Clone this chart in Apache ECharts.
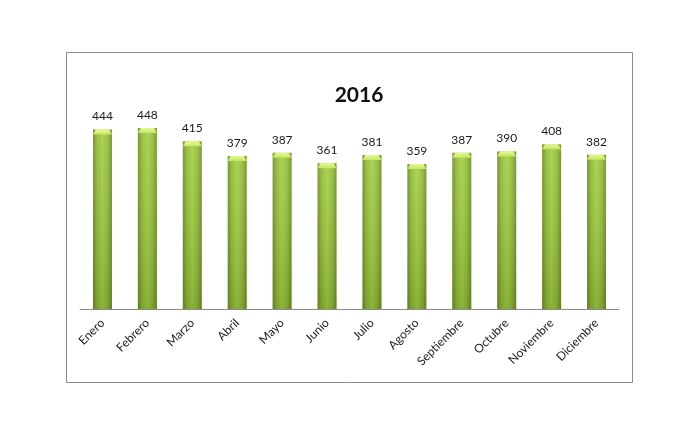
<!DOCTYPE html>
<html>
<head>
<meta charset="utf-8">
<script src="https://cdn.jsdelivr.net/npm/echarts@6/dist/echarts.min.js"></script>
<style>html,body{margin:0;padding:0;background:#fff;}#c{width:698px;height:423px;}</style>
</head>
<body>
<div id="c"></div>
<script>
const titleText = '2016';
const categories = ['Enero','Febrero','Marzo','Abril','Mayo','Junio','Julio','Agosto','Septiembre','Octubre','Noviembre','Diciembre'];
const values = [444,448,415,379,387,361,381,359,387,390,408,382];

const chart = echarts.init(document.getElementById('c'));
const FONT = 'Lato, "Open Sans", sans-serif';
const BW = 19;

function renderItem(params, api) {
  const top = api.coord([api.value(0), api.value(1)]);
  const base = api.coord([api.value(0), 0]);
  const cx = top[0], ty = top[1], by = base[1];
  const x0 = cx - BW / 2;
  return {
    type: 'group',
    children: [
      { type: 'rect', shape: { x: x0, y: ty, width: BW, height: by - ty },
        style: { fill: new echarts.graphic.LinearGradient(0, 0, 1, 0, [
          { offset: 0, color: '#6a8c26' },
          { offset: 0.22, color: '#8fba38' },
          { offset: 0.5, color: '#a2cf46' },
          { offset: 0.78, color: '#8fba38' },
          { offset: 1, color: '#6a8c26' }
        ]) } },
      { type: 'rect', shape: { x: x0, y: ty, width: BW, height: by - ty },
        style: { fill: new echarts.graphic.LinearGradient(0, 0, 0, 1, [
          { offset: 0, color: 'rgba(255,255,210,0.10)' },
          { offset: 1, color: 'rgba(40,50,0,0.18)' }
        ]) } },
      { type: 'polygon', shape: { points: [[x0, ty + 5], [x0 + 3, ty], [x0 + BW - 3, ty], [x0 + BW, ty + 5]] },
        style: { fill: new echarts.graphic.LinearGradient(0, 0, 0, 1, [
          { offset: 0, color: '#e6fa9a' },
          { offset: 1, color: '#c2e65c' }
        ]) } },
      { type: 'text', style: { text: String(api.value(1)), x: cx, y: ty - 7,
        align: 'center', verticalAlign: 'bottom', fill: '#1a1a1a', font: '12px ' + FONT } }
    ]
  };
}

chart.setOption({
  backgroundColor: '#fff',
  animation: false,
  title: { text: titleText, left: 354, top: 80, textAlign: 'center',
    textStyle: { fontFamily: FONT, fontWeight: 'bold', fontSize: 21, color: '#111' } },
  graphic: [{ type: 'rect', shape: { x: 66.5, y: 52.5, width: 566, height: 330 },
    style: { fill: 'none', stroke: '#8a8a8a', lineWidth: 1 }, silent: true, z: -1 }],
  grid: { left: 80, right: 79, top: 107, bottom: 114 },
  xAxis: { type: 'category', data: categories,
    axisLine: { lineStyle: { color: '#8c8c8c', width: 1 } },
    axisTick: { show: false },
    axisLabel: { rotate: 45, margin: 12, interval: 0, color: '#222', fontSize: 12, fontFamily: FONT } },
  yAxis: { type: 'value', min: 0, max: 500, show: false, splitLine: { show: false } },
  series: [{ type: 'custom', renderItem: renderItem, encode: { x: 0, y: 1 },
    data: values.map((v, i) => [i, v]) }]
});
</script>
</body>
</html>
